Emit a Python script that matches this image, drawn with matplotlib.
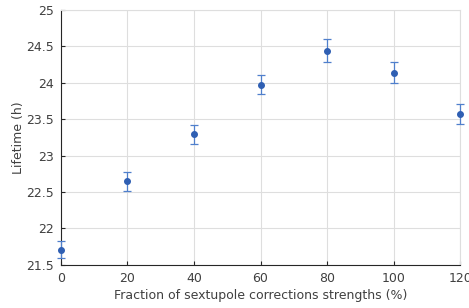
import matplotlib
matplotlib.use("Agg")
import matplotlib.pyplot as plt

# - Datos:

fraction = [0, 20, 40, 60, 80, 100, 120]
lifetime = [21.71, 22.65, 23.29, 23.97, 24.44, 24.14, 23.57]
lifetime_err = [0.12, 0.13, 0.13, 0.13, 0.155, 0.145, 0.135]

# - Figura:

fig = plt.figure(figsize=(4.69, 3.08), dpi=100)
ax = fig.add_axes([0.130, 0.140, 0.851, 0.828])

ax.errorbar(fraction, lifetime, yerr=lifetime_err, fmt='o', color='#2f5fb3',
            ecolor='#4f7fcc', elinewidth=0.9, capsize=3, capthick=0.9,
            markersize=4, zorder=3, clip_on=False)

ax.set_xlim(0, 120)
ax.set_ylim(21.5, 25)
ax.set_xticks([0, 20, 40, 60, 80, 100, 120])
ax.set_yticks([21.5, 22, 22.5, 23, 23.5, 24, 24.5, 25])
ax.set_yticklabels(['21.5', '22', '22.5', '23', '23.5', '24', '24.5', '25'])

ax.grid(True, color='#dedede', linewidth=0.8)
ax.set_axisbelow(True)
ax.tick_params(direction='in', length=3, labelsize=9, colors='#262626',
               labelcolor='#404040', top=False, right=False, pad=5)
for side in ['top', 'right']:
    ax.spines[side].set_color('#dedede')
for side in ['left', 'bottom']:
    ax.spines[side].set_color('#262626')
    ax.spines[side].set_linewidth(0.8)

ax.set_xlabel("Fraction of sextupole corrections strengths (%)", fontsize=9,
              color='#404040', labelpad=3)
ax.set_ylabel("Lifetime (h)", fontsize=9, color='#404040', labelpad=1)

fig.savefig("out.png", dpi=100)
